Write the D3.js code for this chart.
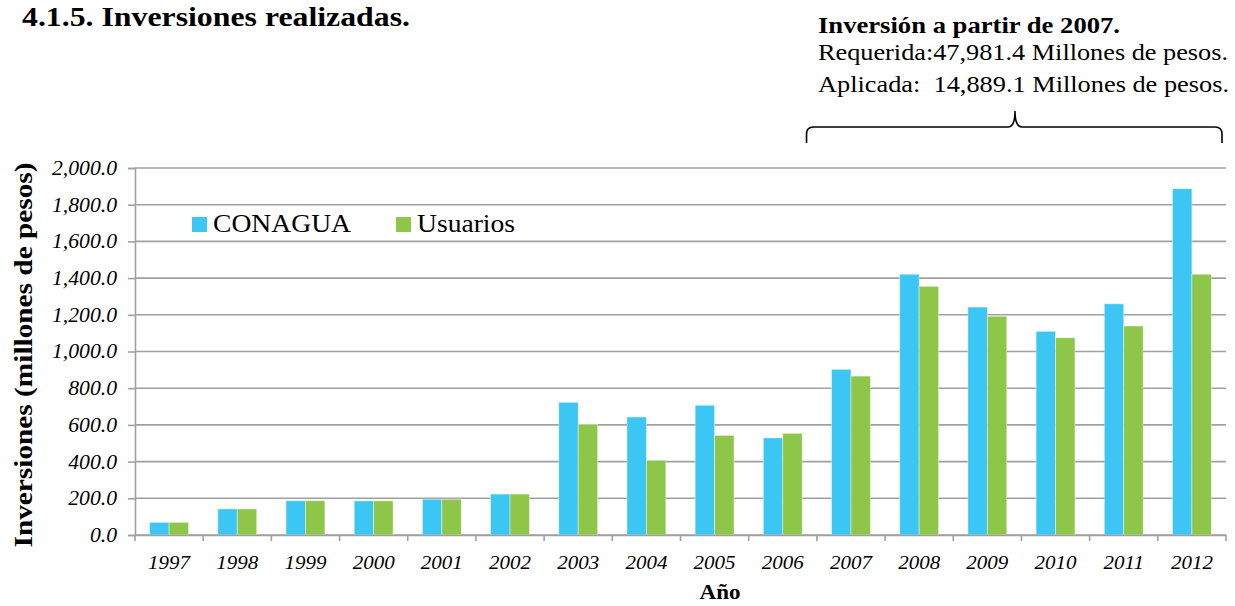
<!DOCTYPE html>
<html lang="es">
  <head>
    <meta charset="UTF-8" />
    <script src="https://d3js.org/d3.v7.min.js"></script>
    <title>Inversiones realizadas</title>
    <style>
      body { margin: 0; background: #fff; }
      text { font-family: 'Liberation Serif', 'Times New Roman', serif; }
    </style>
  </head>
  <body>
    <div id="my_dataviz"></div>
    <script>
      // data (millones de pesos)
      const years = ['1997', '1998', '1999', '2000', '2001', '2002', '2003', '2004',
        '2005', '2006', '2007', '2008', '2009', '2010', '2011', '2012']
      const conagua = [69, 142, 187, 186, 195, 223, 723, 643, 707, 529, 903, 1421, 1242, 1110, 1260, 1887]
      const usuarios = [69, 142, 187, 186, 195, 223, 603, 407, 543, 554, 866, 1355, 1192, 1075, 1139, 1421]
      const seriesNames = ['CONAGUA', 'Usuarios']
      const yTicks = [0, 200, 400, 600, 800, 1000, 1200, 1400, 1600, 1800, 2000]

      const colors = { CONAGUA: '#3BC6F3', Usuarios: '#8EC64A' }
      const gridColor = '#A0A0A0'

      const W = 1235, H = 606
      const margin = { top: 168, right: 9, bottom: 71, left: 135 }
      const width = W - margin.left - margin.right
      const height = H - margin.top - margin.bottom

      // the original text is drawn a bit wider than Liberation Serif, so stretch it
      function fit(sel, w) {
        sel.attr('textLength', w).attr('lengthAdjust', 'spacingAndGlyphs')
      }
      function stretch(sel, k) {
        sel.each(function () {
          const len = this.getComputedTextLength()
          d3.select(this).attr('textLength', len * k).attr('lengthAdjust', 'spacingAndGlyphs')
        })
      }

      const root = d3.select('#my_dataviz')
        .append('svg')
        .attr('width', W)
        .attr('height', H)

      const svg = root.append('g')
        .attr('transform', `translate(${margin.left}, ${margin.top})`)

      const x = d3.scaleBand().domain(years).range([0, width])
        .paddingInner(0.43).paddingOuter(0.215)
      const xSub = d3.scaleBand().domain(seriesNames).range([0, x.bandwidth()])
      const y = d3.scaleLinear().domain([0, 2000]).range([height, 0])

      // gridlines
      svg.append('g')
        .selectAll('line')
        .data(yTicks)
        .join('line')
        .attr('x1', 0)
        .attr('x2', width)
        .attr('y1', d => y(d))
        .attr('y2', d => y(d))
        .attr('stroke', gridColor)
        .attr('stroke-width', 1.6)

      // Y axis
      const yAxis = svg.append('g')
        .call(d3.axisLeft(y).tickValues(yTicks).tickSize(7).tickPadding(11)
          .tickFormat(d3.format(',.1f')))
      yAxis.select('.domain').attr('stroke', gridColor).attr('stroke-width', 1.6)
      yAxis.selectAll('.tick line').attr('stroke', gridColor).attr('stroke-width', 1.6)
      const yLabels = yAxis.selectAll('.tick text')
        .style('font-family', "'Liberation Serif', serif")
        .style('font-style', 'italic')
        .style('font-size', '20px')
        .attr('fill', '#000')

      // bars
      const rows = years.map((yr, i) => ({ year: yr, CONAGUA: conagua[i], Usuarios: usuarios[i] }))
      svg.append('g')
        .selectAll('g')
        .data(rows)
        .join('g')
        .attr('transform', d => `translate(${x(d.year)}, 0)`)
        .selectAll('rect')
        .data(d => seriesNames.map(k => ({ key: k, value: d[k] })))
        .join('rect')
        .attr('x', d => xSub(d.key))
        .attr('width', xSub.bandwidth())
        .attr('y', d => y(d.value))
        .attr('height', d => height - y(d.value))
        .attr('fill', d => colors[d.key])
        .attr('stroke', '#fff')
        .attr('stroke-opacity', 0.5)
        .attr('stroke-width', 0.8)

      // X axis: labels under each category, ticks between categories
      const xAxis = svg.append('g')
        .attr('transform', `translate(0, ${height})`)
        .call(d3.axisBottom(x).tickSize(0).tickPadding(21))
      xAxis.select('.domain').attr('stroke', gridColor).attr('stroke-width', 1.6)
      const xLabels = xAxis.selectAll('.tick text')
        .style('font-family', "'Liberation Serif', serif")
        .style('font-style', 'italic')
        .style('font-size', '19px')
        .attr('fill', '#000')

      const step = x.step()
      svg.append('g')
        .selectAll('line')
        .data(d3.range(years.length + 1))
        .join('line')
        .attr('x1', i => i * step)
        .attr('x2', i => i * step)
        .attr('y1', height)
        .attr('y2', height + 6)
        .attr('stroke', gridColor)
        .attr('stroke-width', 1.6)

      // axis titles
      fit(root.append('text')
        .attr('x', 720)
        .attr('y', 599)
        .attr('text-anchor', 'middle')
        .style('font-weight', 'bold')
        .style('font-size', '21px')
        .text('Año'), 41)

      fit(root.append('text')
        .attr('transform', 'translate(32, 355) rotate(-90)')
        .attr('text-anchor', 'middle')
        .style('font-weight', 'bold')
        .style('font-size', '25px')
        .text('Inversiones (millones de pesos)'), 385)

      // legend
      const legend = root.append('g')
      const legendX = [192, 396]
      const legendW = [138, 98]
      seriesNames.forEach((k, i) => {
        legend.append('rect')
          .attr('x', legendX[i])
          .attr('y', 217)
          .attr('width', 15)
          .attr('height', 15)
          .attr('fill', colors[k])
        fit(legend.append('text')
          .attr('x', legendX[i] + 21)
          .attr('y', 232)
          .style('font-size', '25px')
          .text(k), legendW[i])
      })

      // title
      fit(root.append('text')
        .attr('x', 22)
        .attr('y', 26)
        .style('font-weight', 'bold')
        .style('font-size', '27px')
        .text('4.1.5. Inversiones realizadas.'), 388)

      // note top right
      const note = root.append('g').attr('transform', 'translate(818, 0)')
      fit(note.append('text').attr('y', 33)
        .style('font-weight', 'bold').style('font-size', '24px')
        .text('Inversión a partir de 2007.'), 302)
      fit(note.append('text').attr('y', 60)
        .style('font-size', '24px')
        .text('Requerida:47,981.4 Millones de pesos.'), 410)
      fit(note.append('text').attr('y', 92)
        .style('font-size', '24px')
        .style('white-space', 'pre')
        .text('Aplicada:  14,889.1 Millones de pesos.'), 411)

      // widen axis labels like the original
      const y0 = yLabels.filter(d => d === 2000).node().getComputedTextLength()
      stretch(yLabels, 65 / y0)
      const x0 = xLabels.filter(d => d === '1997').node().getComputedTextLength()
      stretch(xLabels, 42 / x0)

      // brace over 2007-2012
      const bx0 = margin.left + x('2007') - 25
      const bx1 = margin.left + width - 4
      const bm = 1015
      const by = 127, r = 7
      const p = d3.path()
      p.moveTo(bx0, by + 16)
      p.lineTo(bx0, by + r)
      p.quadraticCurveTo(bx0, by, bx0 + r, by)
      p.lineTo(bm - r, by)
      p.quadraticCurveTo(bm, by, bm, by - 16)
      p.quadraticCurveTo(bm, by, bm + r, by)
      p.lineTo(bx1 - r, by)
      p.quadraticCurveTo(bx1, by, bx1, by + r)
      p.lineTo(bx1, by + 16)
      root.append('path')
        .attr('d', p.toString())
        .attr('fill', 'none')
        .attr('stroke', '#000')
        .attr('stroke-width', 1.6)
    </script>
  </body>
</html>
